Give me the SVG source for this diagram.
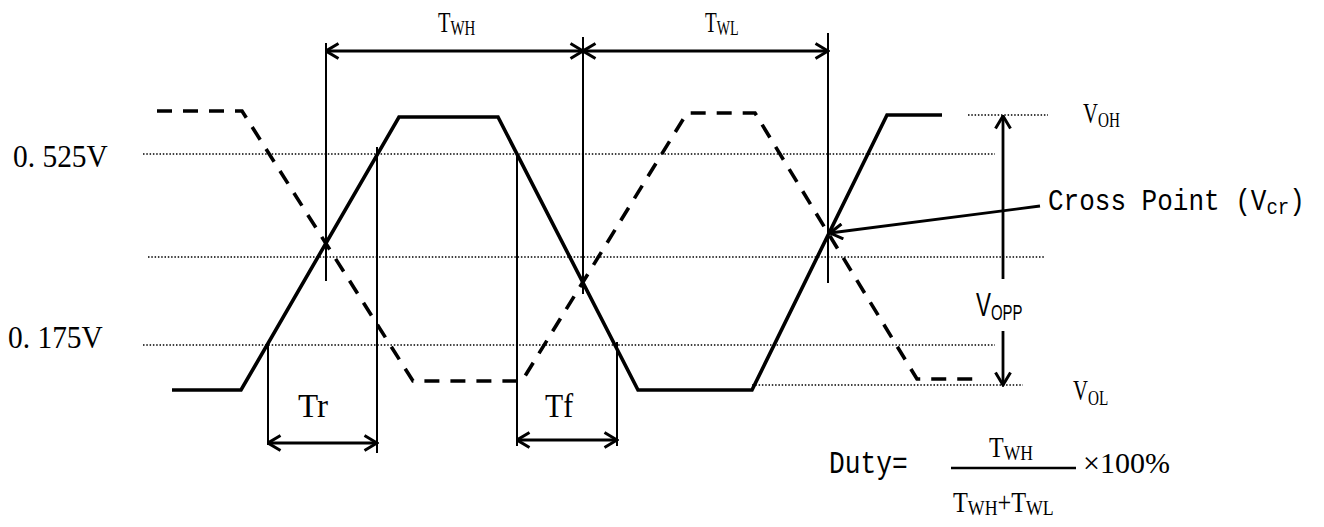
<svg xmlns="http://www.w3.org/2000/svg" width="1324" height="527" viewBox="0 0 1324 527">
<defs>
<style>
.dot{stroke:#000;stroke-width:1.5;stroke-dasharray:1.5 1.8;fill:none}
.thin{stroke:#000;stroke-width:2;fill:none}
.sig{stroke:#000;stroke-width:3.6;fill:none;stroke-linejoin:miter}
.dash{stroke-dasharray:15 11}
.arr{stroke:#000;stroke-width:2.8;fill:none;marker-end:url(#ah)}
.darr{stroke:#000;stroke-width:2.8;fill:none;marker-end:url(#ah);marker-start:url(#ah)}
.t{font-family:"Liberation Serif","Times New Roman",serif;fill:#000}
.m{font-family:"Liberation Mono","Courier New",monospace;fill:#000}
.s{font-family:"Liberation Sans",Arial,sans-serif;fill:#000}
</style>
<marker id="ah" viewBox="0 0 16 18" refX="14.5" refY="9" markerWidth="16" markerHeight="18" markerUnits="userSpaceOnUse" orient="auto-start-reverse">
<path d="M2,1.5 L14.5,9 L2,16.5" fill="none" stroke="#000" stroke-width="3"/>
</marker>
</defs>
<rect width="1324" height="527" fill="#fff"/>

<g id="levels">
<line class="dot" x1="143" y1="154" x2="995" y2="154"/>
<line class="dot" x1="148" y1="257" x2="1045" y2="257"/>
<line class="dot" x1="143" y1="345" x2="995" y2="345"/>
<line class="dot" x1="968" y1="115" x2="1048" y2="115"/>
<line class="dot" x1="752" y1="385" x2="1023" y2="385"/>
</g>

<g id="guides">
<line class="thin" x1="326" y1="43" x2="326" y2="281"/>
<line class="thin" x1="583" y1="37" x2="583" y2="294"/>
<line class="thin" x1="828" y1="33" x2="828" y2="283"/>
<line class="thin" x1="268" y1="342" x2="268" y2="445"/>
<line class="thin" x1="377" y1="147" x2="377" y2="453"/>
<line class="thin" x1="517" y1="153" x2="517" y2="446"/>
<line class="thin" x1="617" y1="342" x2="617" y2="446"/>
</g>

<g id="signal-true">
<polyline class="sig" points="172,390 241,390 399,117 498,117 638,390 752,390 887,115 942,115"/>
</g>
<g id="signal-complement">
<polyline class="sig dash" points="157,111 242,111 413,381 522,381 687,113 755,113 917,379 975,379"/>
</g>

<g id="connectors">
<line class="darr" x1="326" y1="51" x2="583" y2="51"/>
<line class="darr" x1="583" y1="51" x2="828" y2="51"/>
<line class="darr" x1="268" y1="443" x2="377" y2="443"/>
<line class="darr" x1="517" y1="440" x2="617" y2="440"/>
<line class="arr" x1="1003" y1="279" x2="1003" y2="116"/>
<line class="arr" x1="1003" y1="331" x2="1003" y2="385"/>
<line class="arr" x1="1040" y1="206" x2="830" y2="233"/>
<line class="thin" x1="951" y1="468" x2="1076" y2="468" style="stroke-width:2.5"/>
</g>

<g id="labels">
<text id="twh" class="t" transform="translate(438,32) scale(0.68,1)" font-size="30">T<tspan font-size="22" dy="3">WH</tspan></text>
<text id="twl" class="t" transform="translate(705,32) scale(0.64,1)" font-size="30">T<tspan font-size="22" dy="3">WL</tspan></text>
<text id="v525" class="t" transform="translate(13,167) scale(0.92,1)" font-size="32">0. 525V</text>
<text id="v175" class="t" transform="translate(8,348) scale(0.92,1)" font-size="32">0. 175V</text>
<text id="voh" class="t" transform="translate(1083,123) scale(0.69,1)" font-size="30">V<tspan font-size="22" dy="4">OH</tspan></text>
<text id="vol" class="t" transform="translate(1073,400) scale(0.69,1)" font-size="30">V<tspan font-size="22" dy="5">OL</tspan></text>
<text id="tr" class="t" x="298" y="417" font-size="33">Tr</text>
<text id="tf" class="t" transform="translate(545,417) scale(0.9,1)" font-size="33">Tf</text>
<text id="cross" class="m" transform="translate(1048,210) scale(0.867,1)" font-size="30">Cross Point (V<tspan font-size="22" dy="4">cr</tspan><tspan dy="-4">)</tspan></text>
<text id="vopp" class="s" transform="translate(976,316) scale(0.68,1)" font-size="33">V<tspan font-size="22" dy="4">OPP</tspan></text>
<text id="duty" class="m" transform="translate(829,473) scale(0.82,1)" font-size="32">Duty=</text>
<text id="num" class="t" transform="translate(989,457) scale(0.8,1)" font-size="30">T<tspan font-size="22" dy="3">WH</tspan></text>
<text id="den" class="t" transform="translate(953,512) scale(0.81,1)" font-size="30">T<tspan font-size="22" dy="3">WH</tspan><tspan dy="-3">+T</tspan><tspan font-size="22" dy="3">WL</tspan></text>
<text id="pct" class="t" x="1083" y="473" font-size="30">×100%</text>
</g>
</svg>
